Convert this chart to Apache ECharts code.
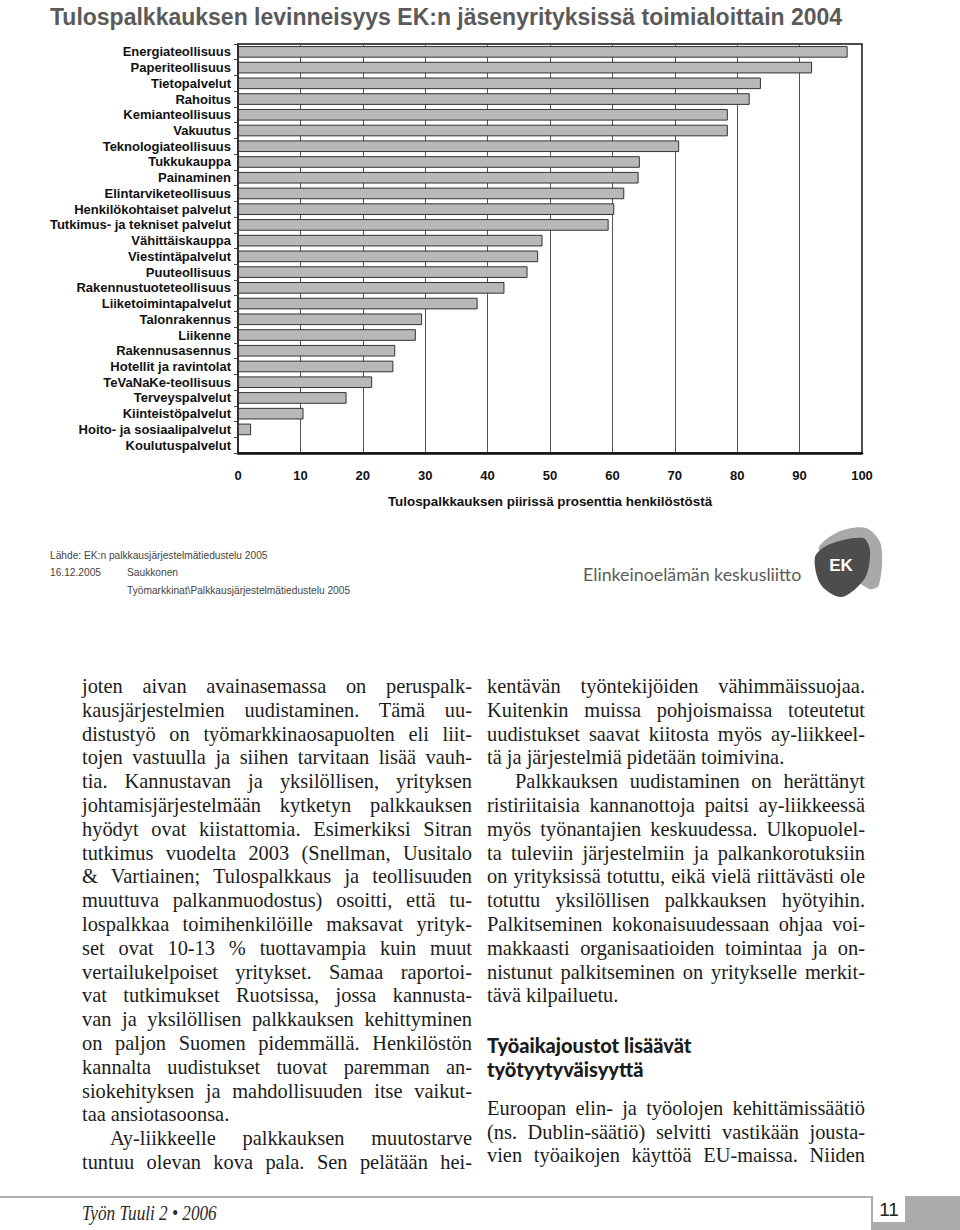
<!DOCTYPE html>
<html>
<head>
<meta charset="utf-8">
<script src="https://cdn.jsdelivr.net/npm/echarts@6/dist/echarts.min.js"></script>
<style>
  html, body { margin: 0; padding: 0; background: #fff; }
  #page { position: relative; width: 960px; height: 1230px; overflow: hidden; background: #fff; }
  #chart { position: absolute; left: 0; top: 0; width: 960px; height: 620px; }
  .col { position: absolute; font-family: "Liberation Serif", "Times New Roman", serif; font-size: 20.4px; color: #1c1c1c; }
  .ln { position: absolute; left: 0; white-space: nowrap; height: 24px; line-height: 24px; }
  .j { text-align: justify; text-align-last: justify; }
  .hd { position: absolute; font-family: Lato, "Open Sans", sans-serif; font-weight: 900; font-size: 20px; color: #1c1c1c; line-height: 24px; white-space: nowrap; }
  #rule { position: absolute; left: 0; top: 1196px; width: 872px; height: 2px; background: #b0b0b0; }
  #pgbox { position: absolute; left: 871px; top: 1196px; width: 89px; height: 34px; background: #ababab; }
  #pgnum { position: absolute; left: 873px; top: 1196px; width: 32px; height: 26px; background: #fff; font-family: "Liberation Sans Narrow", "Liberation Sans", sans-serif; font-size: 19px; color: #222; text-align: center; line-height: 27px; }
  #mag { position: absolute; left: 82px; top: 1202px; font-family: "Liberation Serif", serif; font-style: italic; font-size: 20px; color: #2a2a2a; white-space: nowrap; transform: scaleX(0.86); transform-origin: left center; }
</style>
</head>
<body>
<div id="page">
  <div id="chart"></div>
  <div id="left" class="col" style="left:82px; top:674px; width:390px;"></div>
  <div id="right" class="col" style="left:487px; top:674px; width:378px;"></div>
  <div class="hd" style="left:487px; top:1033px;">Työaikajoustot lisäävät</div>
  <div class="hd" style="left:487px; top:1057px;">työtyytyväisyyttä</div>
  <div id="right2" class="col" style="left:487px; top:1096px; width:378px;"></div>
  <div id="rule"></div>
  <div id="pgbox"></div>
  <div id="pgnum">11</div>
  <div id="mag">Työn Tuuli 2 • 2006</div>
</div>
<script>
// ---- chart data ----
const chartTitle = "Tulospalkkauksen levinneisyys EK:n jäsenyrityksissä toimialoittain 2004";
const categories = [
  "Energiateollisuus", "Paperiteollisuus", "Tietopalvelut", "Rahoitus", "Kemianteollisuus",
  "Vakuutus", "Teknologiateollisuus", "Tukkukauppa", "Painaminen", "Elintarviketeollisuus",
  "Henkilökohtaiset palvelut", "Tutkimus- ja tekniset palvelut", "Vähittäiskauppa",
  "Viestintäpalvelut", "Puuteollisuus", "Rakennustuoteteollisuus", "Liiketoimintapalvelut",
  "Talonrakennus", "Liikenne", "Rakennusasennus", "Hotellit ja ravintolat",
  "TeVaNaKe-teollisuus", "Terveyspalvelut", "Kiinteistöpalvelut",
  "Hoito- ja sosiaalipalvelut", "Koulutuspalvelut"
];
const shareValues = [
  97.7, 92.0, 83.8, 82.0, 78.5,
  78.5, 70.7, 64.4, 64.2, 61.9,
  60.3, 59.4, 48.8,
  48.1, 46.4, 42.7, 38.4,
  29.5, 28.5, 25.2, 24.9,
  21.5, 17.4, 10.5,
  2.1, 0
];
const xTicks = [0, 10, 20, 30, 40, 50, 60, 70, 80, 90, 100];
const xAxisName = "Tulospalkkauksen piirissä prosenttia henkilöstöstä";
const sourceLines = ["Lähde: EK:n palkkausjärjestelmätiedustelu 2005", "16.12.2005", "Saukkonen", "Työmarkkinat\\Palkkausjärjestelmätiedustelu 2005"];
const orgName = "Elinkeinoelämän keskusliitto";

// ---- article text ----
const leftLines = [
  "joten aivan avainasemassa on peruspalk-",
  "kausjärjestelmien uudistaminen. Tämä uu-",
  "distustyö on työmarkkinaosapuolten eli liit-",
  "tojen vastuulla ja siihen tarvitaan lisää vauh-",
  "tia. Kannustavan ja yksilöllisen, yrityksen",
  "johtamisjärjestelmään kytketyn palkkauksen",
  "hyödyt ovat kiistattomia. Esimerkiksi Sitran",
  "tutkimus vuodelta 2003 (Snellman, Uusitalo",
  "& Vartiainen; Tulospalkkaus ja teollisuuden",
  "muuttuva palkanmuodostus) osoitti, että tu-",
  "lospalkkaa toimihenkilöille maksavat yrityk-",
  "set ovat 10-13 % tuottavampia kuin muut",
  "vertailukelpoiset yritykset. Samaa raportoi-",
  "vat tutkimukset Ruotsissa, jossa kannusta-",
  "van ja yksilöllisen palkkauksen kehittyminen",
  "on paljon Suomen pidemmällä. Henkilöstön",
  "kannalta uudistukset tuovat paremman an-",
  "siokehityksen ja mahdollisuuden itse vaikut-",
  "taa ansiotasoonsa.|end",
  "|indAy-liikkeelle palkkauksen muutostarve",
  "tuntuu olevan kova pala. Sen pelätään hei-"
];
const rightLines = [
  "kentävän työntekijöiden vähimmäissuojaa.",
  "Kuitenkin muissa pohjoismaissa toteutetut",
  "uudistukset saavat kiitosta myös ay-liikkeel-",
  "tä ja järjestelmiä pidetään toimivina.|end",
  "|indPalkkauksen uudistaminen on herättänyt",
  "ristiriitaisia kannanottoja paitsi ay-liikkeessä",
  "myös työnantajien keskuudessa. Ulkopuolel-",
  "ta tuleviin järjestelmiin ja palkankorotuksiin",
  "on yrityksissä totuttu, eikä vielä riittävästi ole",
  "totuttu yksilöllisen palkkauksen hyötyihin.",
  "Palkitseminen kokonaisuudessaan ohjaa voi-",
  "makkaasti organisaatioiden toimintaa ja on-",
  "nistunut palkitseminen on yritykselle merkit-",
  "tävä kilpailuetu.|end"
];
const rightLines2 = [
  "Euroopan elin- ja työolojen kehittämissäätiö",
  "(ns. Dublin-säätiö) selvitti vastikään jousta-",
  "vien työaikojen käyttöä EU-maissa. Niiden"
];

function fillCol(id, lines, width, step) {
  const el = document.getElementById(id);
  lines.forEach((raw, i) => {
    let t = raw, end = false, ind = false;
    if (t.endsWith("|end")) { end = true; t = t.slice(0, -4); }
    if (t.startsWith("|ind")) { ind = true; t = t.slice(4); }
    const d = document.createElement("div");
    d.className = "ln" + (end ? "" : " j");
    d.style.top = (i * step) + "px";
    d.style.left = (ind ? 28 : 0) + "px";
    d.style.width = (width - (ind ? 28 : 0)) + "px";
    d.textContent = t;
    el.appendChild(d);
  });
}
fillCol("left", leftLines, 390, 23.8);
fillCol("right", rightLines, 378, 23.8);
fillCol("right2", rightLines2, 378, 23.6);

// ---- chart ----
const chart = echarts.init(document.getElementById("chart"), null, { renderer: "svg" });
const smallFont = "10.2px 'Liberation Sans Narrow', 'Liberation Sans', sans-serif";
const option = {
  animation: false,
  backgroundColor: "#fff",
  title: {
    text: chartTitle,
    left: 45, top: 0,
    textStyle: { fontFamily: "Liberation Sans Narrow, Arial Narrow, Liberation Sans, sans-serif", fontWeight: "bold", fontSize: 23, color: "#5a5a5a" }
  },
  grid: { left: 238, right: 98, top: 44, bottom: 167, show: true, borderColor: "#111", borderWidth: 1.5, backgroundColor: "#fff" },
  xAxis: {
    type: "value", min: 0, max: 100, interval: 10,
    name: xAxisName, nameLocation: "middle", nameGap: 42,
    nameTextStyle: { fontFamily: "Liberation Sans, Arial, sans-serif", fontWeight: "bold", fontSize: 13.4, color: "#111" },
    axisLine: { show: true, lineStyle: { color: "#111", width: 2.5 } },
    axisTick: { show: false },
    axisLabel: { margin: 16, fontFamily: "Liberation Sans, Arial, sans-serif", fontWeight: "bold", fontSize: 13, color: "#111",
      formatter: v => xTicks.includes(v) ? String(v) : "" },
    splitLine: { show: true, lineStyle: { color: "#555", width: 1 } }
  },
  yAxis: {
    type: "category", data: categories, inverse: true,
    axisLine: { show: true, lineStyle: { color: "#222", width: 1.5 } },
    axisTick: { show: true, interval: 0, length: 4, lineStyle: { color: "#444" } },
    axisLabel: { margin: 7, interval: 0, fontFamily: "Liberation Sans, Arial, sans-serif", fontWeight: "bold", fontSize: 13, color: "#111" }
  },
  series: [{
    type: "bar", data: shareValues, barCategoryGap: "26%",
    itemStyle: { color: "#b8b8b8", borderColor: "#333", borderWidth: 1 }
  }],
  graphic: [
    { type: "text", x: 50, y: 550, style: { text: sourceLines[0], font: smallFont, fill: "#444" } },
    { type: "text", x: 50, y: 567, style: { text: sourceLines[1], font: smallFont, fill: "#444" } },
    { type: "text", x: 127, y: 567, style: { text: sourceLines[2], font: smallFont, fill: "#444" } },
    { type: "text", x: 127, y: 585, style: { text: sourceLines[3], font: smallFont, fill: "#444" } },
    { type: "text", x: 583, y: 565, style: { text: orgName, font: "17.8px Lato, 'Open Sans', sans-serif", fill: "#5a5a5a" } },
    { type: "polygon", shape: { points: [[819, 550], [838, 532], [866, 528], [881, 545], [879, 585], [869, 589]], smooth: 0.3 }, style: { fill: "#a9a9a9" } },
    { type: "polygon", shape: { points: [[815, 557], [830, 544], [863, 538], [870, 551], [865, 578], [842, 597], [821, 585]], smooth: 0.3 }, style: { fill: "#4d4d4d" } },
    { type: "text", x: 841, y: 565, style: { text: "EK", font: "bold 17px 'Liberation Sans', sans-serif", fill: "#fff", align: "center", verticalAlign: "middle" } }
  ]
};
chart.setOption(option);
</script>
</body>
</html>
